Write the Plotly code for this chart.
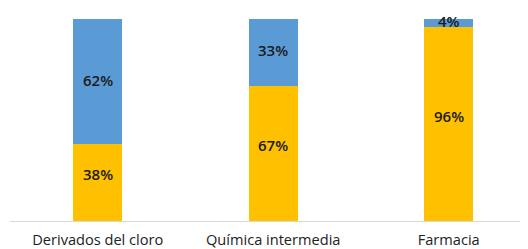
import plotly.graph_objects as go

categories = ["Derivados del cloro", "Química intermedia", "Farmacia"]
bottom_values = [38, 67, 96]
top_values = [62, 33, 4]
bottom_labels = ["38%", "67%", "96%"]
top_labels = ["62%", "33%", "4%"]

label_font = dict(family="Open Sans", size=15, color="#1a1a1a", weight=600)

fig = go.Figure()
fig.add_trace(go.Bar(
    x=categories, y=bottom_values,
    marker=dict(color="#FFC000", line=dict(width=0)),
    width=0.28,
))
fig.add_trace(go.Bar(
    x=categories, y=top_values,
    marker=dict(color="#5B9BD5", line=dict(width=0)),
    width=0.28,
))

for cat, b, t, bl, tl in zip(categories, bottom_values, top_values, bottom_labels, top_labels):
    fig.add_annotation(x=cat, y=b / 2, text=bl, showarrow=False,
                       font=label_font, yshift=8.5)
    fig.add_annotation(x=cat, y=b + t / 2, text=tl, showarrow=False,
                       font=label_font, yshift=2)

fig.update_layout(
    barmode="stack",
    width=520, height=241,
    margin=dict(l=2, r=0, t=11, b=28, autoexpand=False),
    paper_bgcolor="white", plot_bgcolor="white",
    showlegend=False,
    font=dict(family="Open Sans", size=14.6, color="#222222"),
)
fig.update_xaxes(
    type="category", range=[-0.5, 2.452], automargin=False,
    showline=True, linecolor="#d9d9d9", linewidth=1,
    showgrid=False, ticks="", ticklabelstandoff=5,
    tickfont=dict(size=14.6, color="#222222"),
)
fig.update_yaxes(range=[0, 100], visible=False, automargin=False)
fig.write_html("out.html")
